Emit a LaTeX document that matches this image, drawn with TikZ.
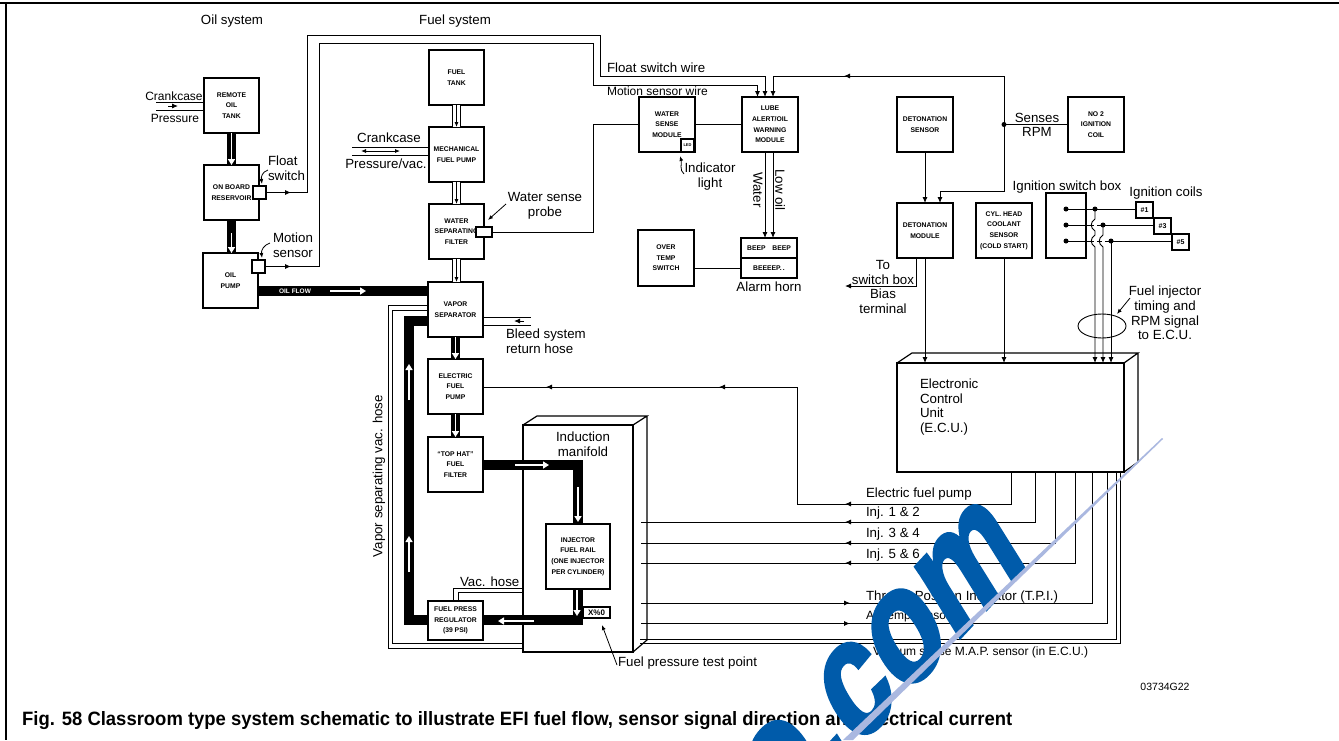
\documentclass[tikz,border=0pt]{standalone}
\usepackage{fontspec}
\setmainfont{Liberation Sans}
\newfontfamily\wmfont[FakeBold=2.5]{Liberation Sans Bold}
\usetikzlibrary{arrows.meta,shapes.geometric}
\definecolor{wmblue}{HTML}{005BAA}
\definecolor{wmline}{HTML}{AAB8E0}
\tikzset{
  lbl/.style={inner sep=0pt,outer sep=0pt,align=center,font=\fontsize{13.3}{14.7}\selectfont},
  lbll/.style={lbl,anchor=west,align=left},
  sml/.style={font=\fontsize{12}{14.7}\selectfont},
  bx/.style={draw,line width=1.2pt,inner sep=0pt,outer sep=0pt,anchor=north west,align=center,rectangle,
     minimum width=55pt,minimum height=55pt,fill=white,font=\bfseries\fontsize{6.8}{10.6}\selectfont},
  wire/.style={line width=.9pt,line join=miter},
  tip/.style={-{Latex[length=6pt,width=5pt]}},
  wa/.style={wire,tip},
  mk/.style={line width=.9pt,-{Latex[length=6pt,width=5pt]}},
  bar/.style={line width=9.5pt,line join=miter},
  wflow/.style={white,line width=1.6pt,-{Triangle[length=6pt,width=7pt]}},
  hose/.style={draw=black,line width=.8pt,double=white,double distance=6.5pt},
  inner/.style={line width=.8pt,-{Latex[length=5pt,width=4pt]}},
  ldr/.style={line width=.8pt,-{Latex[length=5pt,width=4pt]}},
}
\begin{document}
\begin{tikzpicture}[x=1pt,y=-1pt]
\useasboundingbox (0,0) rectangle (1339,740);
\fill[white] (0,0) rectangle (1339,740);
% page frame
\draw[line width=2pt] (0,3) -- (1339,3);
\draw[line width=2pt] (5.5,3) -- (5.5,740);

% three-dimensional housings
\node[bx,minimum width=110pt,minimum height=227pt] (mani) at (523,425) {};
\draw[line width=1.2pt,line join=miter] (mani.north west) -- (537,416) -- (647,416) -- (mani.north east)
   (647,416) -- (647,640) -- (mani.south east);
\node[bx,minimum width=227pt,minimum height=109pt] (ecu) at (897,363) {};
\draw[line width=1.2pt,line join=miter] (ecu.north west) -- (912,353) -- (1138,353) -- (ecu.north east)
   (1138,353) -- (1138,462) -- (ecu.south east);

% boxes
\node[bx] (rem) at (204,78) {REMOTE\\OIL\\TANK};
\node[bx] (res) at (204,165) {ON BOARD\\RESERVOIR};
\node[bx] (oil) at (203,253) {OIL\\PUMP};
\node[bx] (ftank) at (429,50) {FUEL\\TANK};
\node[bx] (mech) at (429,127) {MECHANICAL\\FUEL PUMP};
\node[bx] (wsep) at (429,204) {WATER\\SEPARATING\\FILTER};
\node[bx] (vap) at (428,282) {VAPOR\\SEPARATOR};
\node[bx] (epump) at (428,359) {ELECTRIC\\FUEL\\PUMP};
\node[bx] (hat) at (428,437) {“TOP HAT”\\FUEL\\FILTER};
\node[bx,minimum width=64pt,minimum height=65pt] (rail) at (546,524) {INJECTOR\\FUEL RAIL\\(ONE INJECTOR\\PER CYLINDER)};
\node[bx,minimum height=39pt] (fpr) at (428,601) {FUEL PRESS\\REGULATOR\\(39 PSI)};
\node[bx,minimum width=56pt] (wsm) at (639,97) {WATER\\SENSE\\MODULE};
\node[bx,minimum width=56pt] (lube) at (742,97) {LUBE\\ALERT/OIL\\WARNING\\MODULE};
\node[bx,minimum width=56pt] (dsen) at (897,97) {DETONATION\\SENSOR};
\node[bx,minimum width=56pt] (coil2) at (1068,97) {NO 2\\IGNITION\\COIL};
\node[bx,minimum width=56pt] (dmod) at (897,203) {DETONATION\\MODULE};
\node[bx,minimum width=56pt] (cyl) at (976,203) {CYL. HEAD\\COOLANT\\SENSOR\\(COLD START)};
\node[bx,minimum width=40pt,minimum height=65pt] (sw) at (1046,193) {};
\node[bx,minimum width=56pt,minimum height=56pt] (over) at (638,230) {OVER\\TEMP\\SWITCH};
\node[bx,minimum width=56pt,minimum height=20pt] (alA) at (741,238) {BEEP\quad BEEP};
\node[bx,minimum width=56pt,minimum height=20pt] (alB) at (741,258) {BEEEEP.\,.};
\node[bx,minimum width=13pt,minimum height=13pt,font=\bfseries\fontsize{4}{4}\selectfont] (led) at (681,139) {LED};
\node[bx,minimum width=17pt,minimum height=16pt,font=\bfseries\fontsize{7}{7}\selectfont,line width=1.5pt] (c1) at (1136,202) {\#1};
\node[bx,minimum width=17pt,minimum height=16pt,font=\bfseries\fontsize{7}{7}\selectfont,line width=1.5pt] (c3) at (1154,218) {\#3};
\node[bx,minimum width=17pt,minimum height=16pt,font=\bfseries\fontsize{7}{7}\selectfont,line width=1.5pt] (c5) at (1172,234) {\#5};
\node[bx,minimum width=13pt,minimum height=13pt] (fsw) at (253,186) {};
\node[bx,minimum width=13pt,minimum height=13pt] (msn) at (252,260) {};
\node[bx,minimum width=16pt,minimum height=10pt] (prb) at (476,227) {};
\node[bx,minimum width=27pt,minimum height=11pt,font=\bfseries\fontsize{8}{8}\selectfont] (tp) at (583,607) {X\%0};

% oil and fuel flow
\draw[bar] (rem.south -| 231.5,0) -- (res.north -| 231.5,0);
\draw[white,line width=.8pt] (231.5,133) -- (231.5,150);
\draw[wflow] (231.5,146) -- (231.5,165);
\draw[bar] (res.south -| 231.5,0) -- (oil.north -| 231.5,0);
\draw[wflow] (231.5,233) -- (231.5,253);
\draw[bar] (oil.east |- 0,291) -- (vap.west |- 0,291);
\node[inner sep=0pt,text=white,font=\bfseries\fontsize{6.5}{7}\selectfont] (oilt) at (295,291) {OIL FLOW};
\draw[wflow] (330,291) -- (366,291);

\draw[hose] (ftank.south) -- (mech.north);
\draw[inner] (ftank.south) -- (mech.north);
\draw[hose] (mech.south) -- (wsep.north);
\draw[inner] (mech.south) -- (wsep.north);
\draw[hose] (wsep.south) -- (wsep.south |- vap.north);
\draw[inner] (wsep.south) -- (wsep.south |- vap.north);

\draw[bar] (vap.south) -- (epump.north);
\draw[wflow] (vap.south) -- (epump.north);
\draw[bar] (epump.south) -- (hat.north);
\draw[wflow] (epump.south) -- (hat.north);
\draw[bar] (hat.east |- 0,465) -- (578,465) -- (rail.north -| 578,0);
\draw[wflow] (515,465) -- (549,465);
\draw[wflow] (578,487) -- (578,522);
\draw[bar] (rail.south -| 578,0) -- (578,620) -- (fpr.east |- 0,620);
\draw[wflow] (577,590) -- (577,616);
\draw[wflow] (534,621) -- (498,621);
\draw[bar] (fpr.west |- 0,620) -- (409,620) -- (409,321) -- (vap.west |- 0,321);
\draw[wflow] (409,572) -- (409,536);
\draw[wflow] (409,400) -- (409,364);

% thin hoses
\draw[wire] (vap.west |- 0,305) -- (388,305) -- (388,648) -- (mani.west |- 0,648);
\draw[wire] (vap.west |- 0,310) -- (392,310) -- (392,643) -- (mani.west |- 0,643);
\draw[wire] (fpr.north -| 453,0) -- (453,588) -- (mani.west |- 0,588);
\draw[wire] (fpr.north -| 458,0) -- (458,592) -- (mani.west |- 0,592);
\draw[wire] (vap.east |- 0,317) -- (531,317);
\draw[wire] (vap.east |- 0,325) -- (531,325);
\draw[mk] (524,321) -- (514,321);
\draw[wire] (156,102) -- (rem.west |- 0,102);
\draw[wire] (156,110) -- (rem.west |- 0,110);
\draw[mk] (168,106) -- (178,106);
\draw[wire] (352,147) -- (mech.west |- 0,147);
\draw[wire] (352,155) -- (mech.west |- 0,155);
\draw[line width=.8pt,{Latex[length=5pt,width=4pt]}-{Latex[length=5pt,width=4pt]}] (361,151) -- (400,151);

% sensor wires
\draw[wire] (fsw.east) -- (307,192.5) -- (307,35) -- (600,35) -- (600,76) -- (765,76);
\draw[wa] (765,76) -- (lube.north -| 765,0);
\draw[mk] (280,192.5) -- (291,192.5);
\draw[wire] (msn.east) -- (319,266.5) -- (319,43) -- (593,43) -- (593,85) -- (757.5,85);
\draw[wa] (757.5,85) -- (lube.north -| 757.5,0);
\draw[mk] (280,266.5) -- (291,266.5);
\draw[wire,tip] (1004,76) -- (773,76) -- (lube.north -| 773,0);
\draw[mk] (853,76) -- (844,76);
\draw[wire] (1004,76) -- (1004,191) -- (940,191);
\draw[wa] (940,191) -- (dmod.north -| 940,0);
\draw[wire] (prb.east) -- (593,232) -- (593,124.5) -- (wsm.west);
\draw[wire] (wsm.east) -- (lube.west);
\draw[wa] (lube.south -| 765,0) -- (alA.north -| 765,0);
\draw[wa] (lube.south -| 773,0) -- (alA.north -| 773,0);
\draw[wire] (over.east |- alB.west) -- (alB.west);
\draw[wa] (dsen.south) -- (dmod.north);
\draw[wire,tip] (dmod.south -| 916.5,0) -- (916.5,286) -- (845,286);
\draw[wa] (dmod.south) -- (ecu.north -| dmod.south);
\draw[wa] (cyl.south) -- (ecu.north -| cyl.south);
\draw[wire] (1004,124.5) -- (coil2.west);
\fill (1004,124.5) circle (2.5pt);

% ignition wiring
\foreach \yy in {209,225,241}{\fill (1066,\yy) circle (2.5pt);}
\draw[wire] (1066,209) -- (c1.west |- 0,209);
\draw[wire] (1066,225) -- (c3.west |- 0,225);
\draw[wire] (1066,241) -- (c5.west |- 0,241);
\fill (1095,209) circle (2.5pt) (1103,225) circle (2.5pt) (1111,241) circle (2.5pt);
\draw[white,line width=3pt] (1095,221) -- (1095,229) (1095,237) -- (1095,245) (1103,237) -- (1103,245);
\draw[wa] (1095,209) -- (1095,219) .. controls (1090,222) and (1090,228) .. (1095,231)
   -- (1095,235) .. controls (1090,238) and (1090,244) .. (1095,247) -- (ecu.north -| 1095,0);
\draw[wa] (1103,225) -- (1103,235) .. controls (1098,238) and (1098,244) .. (1103,247) -- (ecu.north -| 1103,0);
\draw[wa] (1111,241) -- (ecu.north -| 1111,0);
\node[draw,line width=.9pt,ellipse,inner sep=0pt,minimum width=48pt,minimum height=24pt] (loom) at (1102,326) {};
\draw[ldr] (1130,298) -- (1117,314);

% ECU lines
\draw[wire] (ecu.south -| 1011,0) -- (1011,504) -- (797,504) -- (797,387) -- (epump.east |- 0,387);
\draw[mk] (854,504) -- (845,504);
\draw[mk] (728,387) -- (719,387);
\draw[mk] (555,387) -- (546,387);
\draw[wire] (ecu.south -| 1035,0) -- (1035,522) -- (641,522);
\draw[mk] (854,522) -- (845,522);
\draw[wire] (ecu.south -| 1055,0) -- (1055,543) -- (641,543);
\draw[mk] (854,543) -- (845,543);
\draw[wire] (ecu.south -| 1075,0) -- (1075,563) -- (641,563);
\draw[mk] (854,563) -- (845,563);
\draw[wire] (ecu.south -| 1092,0) -- (1092,603) -- (641,603);
\draw[mk] (841,603) -- (850,603);
\draw[wire] (ecu.south -| 1107,0) -- (1107,623.5) -- (641,623.5);
\draw[mk] (841,623.5) -- (850,623.5);
\draw[wire] (ecu.south -| 1116,0) -- (1116,639) -- (640,639);
\draw[wire] (ecu.south -| 1120,0) -- (1120,643) -- (640,643);

% labels
\node[lbl] (tOil) at (232,21) {Oil system};
\node[lbl] (tFuel) at (455,21) {Fuel system};
\node[lbl,sml] (tC1) at (174,96) {Crankcase};
\node[lbl,sml] (tP1) at (175,118) {Pressure};
\node[lbll] (tFl) at (268,168) {Float\\switch};
\node[lbll] (tMo) at (273,245) {Motion\\sensor};
\node[lbl] (tC2) at (389,138) {Crankcase};
\node[lbl] (tP2) at (386,164) {Pressure/vac.};
\node[lbl] (tWp) at (545,206) {Water sense\\probe};
\node[lbll] (tFw) at (607,68) {Float switch wire};
\node[lbll,sml] (tMw) at (607,91) {Motion sensor wire};
\node[lbl] (tInd) at (710,176.5) {Indicator\\light};
\node[lbl,rotate=-90] (tWa) at (758,190) {Water};
\node[lbl,rotate=-90] (tLo) at (780,190) {Low oil};
\node[lbl] (tAl) at (769,287) {Alarm horn};
\node[lbl] (tTo) at (883,287) {To\\switch box\\Bias\\terminal};
\node[lbl] (tSe) at (1037,125) {Senses\\RPM};
\node[lbl] (tSb) at (1067,187) {Ignition switch box};
\node[lbl] (tCo) at (1166,193) {Ignition coils};
\node[lbl] (tFi) at (1165,313) {Fuel injector\\timing and\\RPM signal\\to E.C.U.};
\node[lbll] (tEc) at (920,407) {Electronic\\Control\\Unit\\(E.C.U.)};
\node[lbl] (tIn) at (583,444) {Induction\\manifold};
\node[lbl,rotate=90] (tVs) at (379,476) {Vapor separating vac. hose};
\node[lbll] (tBl) at (506,341) {Bleed system\\return hose};
\node[lbll] (tVh) at (460,582) {Vac. hose};
\node[lbll] (tTp) at (618,663) {Fuel pressure test point};
\node[lbll] (tE0) at (866,494) {Electric fuel pump};
\node[lbll] (tE1) at (866,513) {Inj. 1 \& 2};
\node[lbll] (tE2) at (866,534) {Inj. 3 \& 4};
\node[lbll] (tE3) at (866,555) {Inj. 5 \& 6};
\node[lbll] (tE4) at (866,597) {Throttle Position Indicator (T.P.I.)};
\node[lbll,sml] (tE5) at (866,616) {Air temp sensor};
\node[lbl,sml,anchor=east] (tE6) at (1088,652) {Vacuum sense M.A.P. sensor (in E.C.U.)};
\node[inner sep=0pt,font=\fontsize{10.5}{11}\selectfont] (tCd) at (1165,687) {03734G22};
\node[inner sep=0pt,anchor=west,font=\bfseries] (tCap) at (22,721) {\resizebox{990pt}{14pt}{Fig. 58 Classroom type system schematic to illustrate EFI fuel flow, sensor signal direction and electrical current}};

% leaders
\draw[ldr] (268,170) .. controls (262,172) and (261,177) .. (262,184);
\draw[ldr] (270,243) .. controls (264,245) and (261,250) .. (262,258);
\draw[ldr] (506,204) -- (488,220);
\draw[ldr] (684,174) .. controls (679,170) and (682,163) .. (680,156);
\draw[ldr] (617,665) -- (602,625);

% web watermark printed over the scan
\begin{scope}
\clip (0,0) rectangle (1339,740);
\begin{scope}[shift={(855,750)},cm={.54,.58,-.53,.85,(0,0)}]
\node[transform shape,inner sep=0pt,anchor=base west,text=wmblue,font=\wmfont\fontsize{157}{157}\selectfont] (wm) at (0,0) {\llap{o.}com};
\end{scope}
\fill[wmline] (1162,438) -- (1163,439) -- (853,740) -- (843,740) -- cycle;
\end{scope}
\end{tikzpicture}
\end{document}
